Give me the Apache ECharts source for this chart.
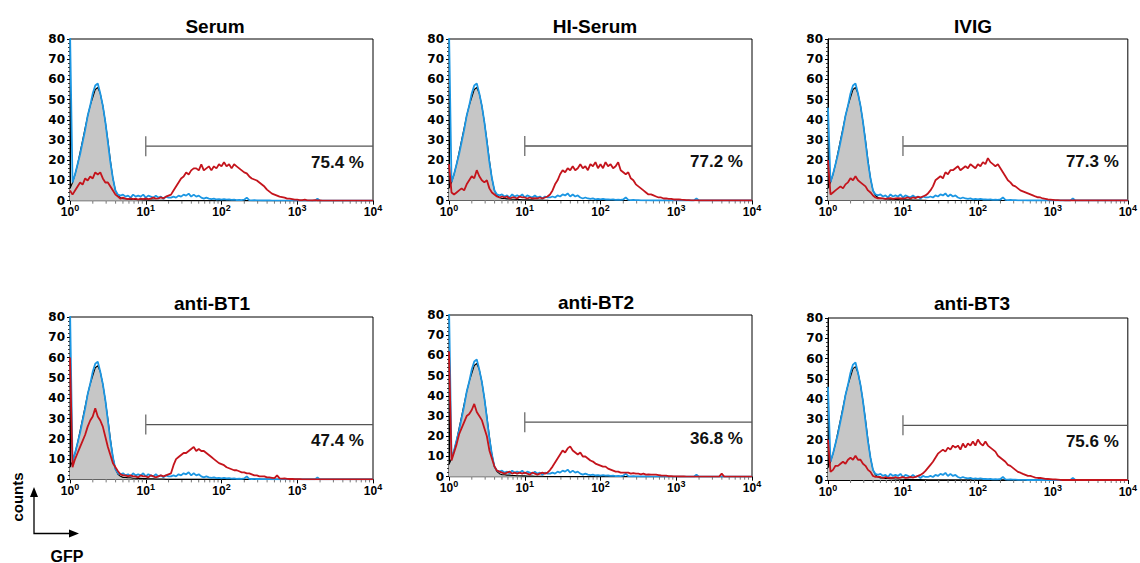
<!DOCTYPE html>
<html><head><meta charset="utf-8">
<script src="https://cdn.jsdelivr.net/npm/echarts@6/dist/echarts.min.js"></script>
<style>html,body{margin:0;padding:0;background:#fff}#c{width:1140px;height:563px}</style>
</head><body><div id="c"></div>
<script>
// ---------------- DATA ----------------
const panelTitles = ['Serum', 'HI-Serum', 'IVIG', 'anti-BT1', 'anti-BT2', 'anti-BT3'];
const gatePercents = ['75.4 %', '77.2 %', '77.3 %', '47.4 %', '36.8 %', '75.6 %'];
const gateStart = 10;
const gateEnd = 10000;
const gateLevel = 27;
const xMin = 1, xMax = 10000;
const yMin = 0, yMax = 80, yInterval = 10;
const binsPerDecade = 30; // histogram channels per decade (121 channels over 4 decades)

// control sample (grey filled, black outline)
const controlGray = [
  6, 9, 13, 18, 24, 30, 36, 42, 47, 51,
  55, 56, 53, 47, 39, 30, 20, 11, 5, 2.5,
  1.5, 1, 1, 0.8, 0.8, 0.6, 0.6, 0.5, 0.5, 0.4,
  0.4, 0.3, 0.3, 0.3, 0.2, 0.2, 0.2, 0.2, 0.1, 0.1,
  0, 0, 0, 0, 0, 0, 0, 0, 0, 0,
  0, 0, 0, 0, 0, 0, 0, 0, 0, 0,
  0, 0, 0, 0, 0, 0, 0, 0, 0, 0,
  0, 0, 0, 0, 0, 0, 0, 0, 0, 0,
  0, 0, 0, 0, 0, 0, 0, 0, 0, 0,
  0, 0, 0, 0, 0, 0, 0, 0, 0, 0,
  0, 0, 0, 0, 0, 0, 0, 0, 0, 0,
  0, 0, 0, 0, 0, 0, 0, 0, 0, 0,
  0
];
// second control (blue line); channel 0 taken from blueEdge per panel
const controlBlue = [
  0, 9, 13, 18, 23, 29, 35, 42, 47, 53,
  57, 58, 53, 47, 39, 29, 19, 11, 5, 3,
  2.5, 3, 2, 2.5, 1.5, 3, 2, 2.5, 2, 3,
  1.5, 2.5, 2, 1.5, 2.5, 1.5, 2, 1, 2, 1.5,
  1.5, 2, 1.5, 2.5, 2, 3, 2.5, 3.5, 2, 3,
  2, 2.5, 1.5, 1, 1.5, 1, 0.8, 1, 0.6, 0.8,
  0.5, 0.8, 0.5, 0.6, 0.4, 0.5, 0.3, 0.4, 0.3, 0.5,
  1.5, 0.3, 0.2, 0.3, 0.2, 0.2, 0.1, 0.1, 0.1, 0.1,
  0, 0, 0, 0, 0, 0, 0, 0, 0, 0,
  0, 0, 0, 0, 0, 0, 0, 0, 1, 0,
  0, 0, 0, 0, 0, 0, 0, 0, 0, 0,
  0, 0, 0, 0, 0, 0, 0, 0, 0, 0,
  0
];
const blueEdge = [85, 85, 46, 85, 85, 46];

const redSerum = [
  5, 3, 5, 7, 9, 8, 11, 10, 12, 11,
  14, 13, 14, 11, 9, 9, 7, 5, 3, 2,
  1, 1.5, 1, 0.8, 1.2, 0.8, 1, 0.6, 1, 0.8,
  1.2, 0.8, 1, 1.5, 1, 1.2, 1.6, 1.2, 2, 2.5,
  3, 5, 7, 9, 11, 12, 14, 13, 15, 16,
  16, 15, 18, 15, 16, 17, 15, 17, 16, 18,
  17, 19, 17, 18, 16, 18, 17, 16, 15, 14,
  13.5, 12, 11, 10.5, 10, 9, 8, 7, 5.5, 4.5,
  3.5, 3, 2.5, 2, 1.8, 1.5, 1, 1, 0.8, 0.5,
  0.5, 0.3, 0.3, 0.5, 0.2, 0.2, 0.1, 0.3, 0.1, 0.1,
  0, 0, 0, 0, 0, 0, 0, 0, 0, 0,
  0, 0, 0, 0, 0, 0, 0, 0, 0, 0,
  0
];
const redHISerum = [
  18, 4, 3, 4, 5, 6, 5, 8, 10, 12,
  11, 15, 12, 10, 9, 10, 6, 4, 3, 2,
  1.5, 2, 1.5, 2, 1, 1.5, 1.5, 1, 2, 1.5,
  1.5, 1, 1.5, 1, 1.2, 1, 1.5, 1, 1.5, 2,
  3, 5, 8, 10, 13, 15, 14, 16, 15, 17,
  15, 16, 18, 16, 17, 15, 18, 17, 19, 16,
  18, 16, 19, 17, 18, 16, 17, 19, 15, 14,
  13, 14, 11, 10, 8, 7, 6, 5, 4, 3,
  3, 2.5, 2, 1.5, 1.5, 1, 1, 0.8, 0.8, 0.5,
  0.5, 0.6, 0.4, 0.3, 0.2, 0.2, 0.1, 0.1, 0.1, 0,
  0, 0, 0, 0, 0, 0, 0, 0, 0, 0,
  0, 0, 0, 0, 0, 0, 0, 0, 0, 0,
  0
];
const redIVIG = [
  20, 3, 4, 5, 6, 7, 6, 8, 9, 11,
  10, 12, 10, 9, 8, 7, 5, 4, 2.5, 1.5,
  1, 1.2, 1, 0.8, 1, 1.2, 0.8, 1, 1.2, 1,
  1, 1.2, 1.5, 1, 1.5, 1.2, 1.8, 1.5, 2, 2.5,
  3.5, 5, 7, 10, 11, 12, 11, 14, 13, 15,
  15, 16, 17, 15, 16, 17, 16, 18, 17, 16,
  18, 17, 19, 18, 21, 19, 18, 17, 18, 16,
  14, 12, 10, 9, 7.5, 7, 6, 5, 4.5, 4,
  3.5, 3, 2.5, 2, 1.6, 1.5, 1, 0.8, 0.5, 0.4,
  0.3, 0.2, 0.2, 0.1, 0.1, 0, 0, 0, 0, 0,
  0, 0, 0, 0, 0, 0, 0, 0, 0, 0,
  0, 0, 0, 0, 0, 0, 0, 0, 0, 0,
  0
];
const redBT1 = [
  60, 6, 10, 13, 16, 19, 22, 26, 29, 31,
  35, 31, 29, 26, 21, 16, 12, 8, 6, 4,
  2.5, 2, 2, 1.5, 2, 1.5, 1.5, 1, 2, 1.5,
  1.5, 1, 2, 1.5, 1, 1.5, 2, 1.5, 2, 2.5,
  3, 7, 10, 11, 12, 13, 13, 14, 15, 16,
  14, 15, 14, 14, 13, 12, 11, 10, 9, 8,
  7.5, 7, 6, 5.5, 5, 4.5, 4.5, 4, 3.5, 3.5,
  3, 3, 2.5, 2, 2, 1.5, 1.5, 1.5, 1, 1,
  0.8, 0.6, 2, 0.5, 0.4, 0.5, 0.3, 0.2, 0.3, 0.1,
  0.1, 0.1, 0, 0, 0, 0, 0, 0, 0, 0,
  0, 0, 0, 0, 0, 0, 0, 0, 0, 0,
  0, 0, 0, 0, 0, 0, 0, 0, 0, 0,
  0
];
const redBT2 = [
  62, 8, 12, 16, 21, 24, 27, 30, 31, 33,
  36, 32, 30, 28, 24, 20, 13, 9, 5, 3,
  2.5, 2, 1.5, 2, 2.5, 1.5, 2, 1.5, 2, 1.5,
  2, 1.5, 1, 2, 1.5, 1, 1.5, 2, 1.5, 2,
  3.3, 5, 7, 9, 11, 13, 12, 14, 15, 13,
  12, 11, 12, 10, 10, 9, 8, 7.5, 6.5, 6,
  5.5, 5, 5, 4, 3.5, 3, 2.5, 2.5, 2, 2,
  2, 2, 1.5, 1.8, 1.5, 1.5, 1.2, 1.5, 1, 1.2,
  1, 1, 1, 0.8, 0.6, 0.5, 0.5, 0.3, 0.3, 0.2,
  0.2, 0.1, 0.1, 0.1, 0, 0, 0, 0, 0, 0,
  0, 0, 0, 0, 0, 0, 0, 0, 1.5, 0,
  0, 0, 0, 0, 0, 0, 0, 0, 0, 0,
  0
];
const redBT3 = [
  20, 4, 5, 7, 7, 8, 9, 8, 10, 11,
  10, 12, 10, 10, 8, 7, 5, 4, 2, 1.5,
  1.5, 1.5, 1, 1.5, 1, 1.2, 1, 1.5, 1, 1.2,
  1.5, 1, 1.2, 1.5, 1.2, 1.5, 2, 2.5, 3.3, 4.5,
  6, 7.5, 9, 11, 13, 14, 15, 14, 16, 15,
  17, 16, 17, 15, 18, 16, 18, 17, 19, 17,
  20, 18, 17, 19, 17, 16, 15, 14, 12, 11,
  10, 9, 7.5, 7, 6, 5, 4, 3.6, 3, 2.5,
  2, 2, 1.6, 1.2, 1, 1, 0.8, 0.6, 0.5, 0.4,
  0.3, 0.3, 0.2, 0.1, 0, 0, 0, 0, 0, 0,
  0, 0, 0, 0, 0, 0, 0, 0, 0, 0,
  0, 0, 0, 0, 0, 0, 0, 0, 0, 0,
  0
];
const redSeries = [redSerum, redHISerum, redIVIG, redBT1, redBT2, redBT3];

// ---------------- LAYOUT ----------------
const grids = [
  {left: 70, top: 39, width: 303, height: 161.7},
  {left: 449, top: 39, width: 303, height: 161.5},
  {left: 828, top: 39, width: 303, height: 161.5},
  {left: 70, top: 317, width: 303, height: 162.4},
  {left: 449, top: 315, width: 303, height: 161.7},
  {left: 828, top: 318, width: 303, height: 162}
];
const titlePos = [[215, 26], [595, 26], [973, 26], [212, 303], [596, 302], [972, 303]];

const FONT = '"Liberation Sans", Arial, Helvetica, sans-serif';
const TICKFONT = '"DejaVu Sans", "Liberation Sans", sans-serif';
const C_BLUE = '#1c97e3', C_RED = '#c4141c', C_GRAY = '#c6c6c6';

function toPoints(vals) {
  return vals.map((v, i) => [Math.pow(10, i / binsPerDecade), v]);
}
const minorTickValues = [];
for (let d = 0; d < 4; d++) for (let m = 2; m <= 9; m++) minorTickValues.push(m * Math.pow(10, d));

const option = {
  animation: false,
  backgroundColor: '#fff',
  title: panelTitles.map((t, p) => ({
    text: t, left: titlePos[p][0], top: titlePos[p][1], padding: 0,
    textAlign: 'center', textVerticalAlign: 'middle',
    textStyle: {fontFamily: FONT, fontWeight: 'bold', fontSize: 19, color: '#000'}
  })),
  grid: grids.map(g => Object.assign({show: true, borderColor: '#000', borderWidth: 1, backgroundColor: 'transparent', containLabel: false}, g)),
  xAxis: grids.map((g, p) => ({
    type: 'log', logBase: 10, min: xMin, max: xMax, gridIndex: p,
    axisLine: {show: true, lineStyle: {color: '#000', width: 1}},
    axisTick: {show: true, length: 4, lineStyle: {color: '#000', width: 1}},
    splitLine: {show: false},
    axisLabel: {
      show: true, margin: 5, showMinLabel: true, showMaxLabel: true,
      formatter: v => '{b|10}{s|' + Math.round(Math.log10(v)) + '}',
      rich: {
        b: {fontFamily: FONT, fontWeight: 'bold', fontSize: 12, color: '#000', lineHeight: 13},
        s: {fontFamily: FONT, fontWeight: 'bold', fontSize: 9, color: '#000', lineHeight: 9, padding: [0, 0, 8, 0]}
      }
    }
  })),
  yAxis: grids.map((g, p) => ({
    type: 'value', min: yMin, max: yMax, interval: yInterval, gridIndex: p,
    axisLine: {show: true, lineStyle: {color: '#000', width: 1}},
    axisTick: {show: true, length: 3, lineStyle: {color: '#000', width: 1}},
    minorTick: {show: true, splitNumber: 5, length: 2, lineStyle: {color: '#333', width: 1}},
    splitLine: {show: false},
    axisLabel: {margin: 5, fontFamily: TICKFONT, fontWeight: 'bold', fontSize: 12, color: '#000'}
  })),
  series: [],
  graphic: [
    {type: 'text', x: 17, y: 497, rotation: Math.PI / 2,
     style: {text: 'counts', font: 'bold 15px ' + FONT, fill: '#000', align: 'center', verticalAlign: 'middle'}},
    {type: 'text', x: 67, y: 556,
     style: {text: 'GFP', font: 'bold 16px ' + FONT, fill: '#000', align: 'center', verticalAlign: 'middle'}},
    {type: 'polyline', shape: {points: [[34, 494], [34, 533.5], [73, 533.5]]},
     style: {stroke: '#000', lineWidth: 1.3, fill: null}},
    {type: 'polygon', shape: {points: [[34, 487], [30, 497], [38, 497]]}, style: {fill: '#000'}},
    {type: 'polygon', shape: {points: [[79, 533.5], [69, 529.5], [69, 537.5]]}, style: {fill: '#000'}}
  ]
};

grids.forEach((g, p) => {
  const blue = controlBlue.slice();
  blue[0] = blueEdge[p];
  option.series.push(
    {type: 'line', xAxisIndex: p, yAxisIndex: p, data: toPoints(controlGray), symbol: 'none', z: 2,
     lineStyle: {color: '#000', width: 1.1}, areaStyle: {color: C_GRAY, opacity: 1}},
    {type: 'line', xAxisIndex: p, yAxisIndex: p, data: toPoints(blue), symbol: 'none', z: 3,
     lineStyle: {color: C_BLUE, width: 1.8}},
    {type: 'line', xAxisIndex: p, yAxisIndex: p, data: toPoints(redSeries[p]), symbol: 'none', z: 4,
     lineStyle: {color: C_RED, width: 1.8}},
    {type: 'custom', xAxisIndex: p, yAxisIndex: p, z: 5, clip: false,
     data: [[gateStart, gateEnd, gateLevel]], encode: {x: [0, 1], y: 2},
     renderItem: (params, api) => {
       const a = api.coord([api.value(0), api.value(2)]);
       const b = api.coord([api.value(1), api.value(2)]);
       return {type: 'group', children: [
         {type: 'line', shape: {x1: a[0], y1: a[1], x2: b[0], y2: b[1]}, style: {stroke: '#555', lineWidth: 1.4}},
         {type: 'line', shape: {x1: a[0], y1: a[1] - 10, x2: a[0], y2: a[1] + 10}, style: {stroke: '#777', lineWidth: 1.4}},
         {type: 'text', style: {x: b[0] - 9, y: a[1] + 16, text: gatePercents[p], fill: '#111',
           font: 'bold 17px ' + FONT, align: 'right', verticalAlign: 'middle'}}
       ]};
     }},
    {type: 'custom', xAxisIndex: p, yAxisIndex: p, z: 1, clip: false, silent: true,
     data: minorTickValues.map(v => [v, yMin]), encode: {x: 0, y: 1},
     renderItem: (params, api) => {
       const pt = api.coord([api.value(0), api.value(1)]);
       return {type: 'line', shape: {x1: pt[0], y1: pt[1], x2: pt[0], y2: pt[1] + 3},
               style: {stroke: '#777', lineWidth: 1}};
     }}
  );
});

const chart = echarts.init(document.getElementById('c'), null, {renderer: 'svg'});
chart.setOption(option);
</script>
</body></html>
